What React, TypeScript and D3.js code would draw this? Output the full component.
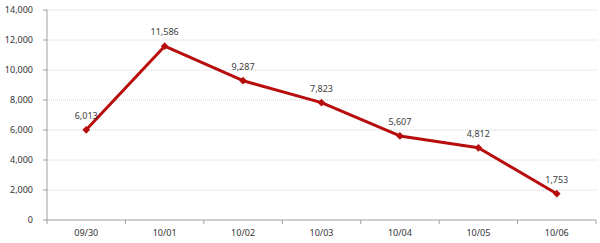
import React from "react";
import * as d3 from "d3";

const categories = ["09/30", "10/01", "10/02", "10/03", "10/04", "10/05", "10/06"];
const values = [6013, 11586, 9287, 7823, 5607, 4812, 1753];
const yTicks = [0, 2000, 4000, 6000, 8000, 10000, 12000, 14000];

const W = 600;
const H = 243;
const M = { left: 47, right: 4, top: 10, bottom: 23 };
const FONT = "'Noto Sans', 'DejaVu Sans', sans-serif";

export default function App() {
  const x = d3.scaleBand<string>().domain(categories).range([M.left, W - M.right]);
  const y = d3.scaleLinear().domain([0, 14000]).range([H - M.bottom, M.top]);
  const fmt = d3.format(",");
  const pts = categories.map((c, i) => [x(c)! + x.bandwidth() / 2, y(values[i])] as [number, number]);
  const line = d3.line()(pts) || "";
  const diamond = d3.symbol().type(d3.symbolSquare).size(30)() || "";
  const x0 = M.left;
  const x1 = W - M.right;
  const yb = y(0);
  return (
    <svg width={W} height={H} style={{ position: "absolute", left: 0, top: 0, background: "#fff" }}>
      {yTicks.map((t) => (
        <g key={t}>
          {t > 0 && (
            <line x1={x0} x2={x1} y1={y(t)} y2={y(t)} stroke="#d0d0d0" strokeWidth={1} strokeDasharray="1,1" />
          )}
          <line x1={x0 - 4} x2={x0} y1={y(t)} y2={y(t)} stroke="#a0a0a0" />
          <text x={x0 - 14} y={y(t)} dy="0.35em" textAnchor="end" fontFamily={FONT} fontSize={9} fill="#333">
            {fmt(t)}
          </text>
        </g>
      ))}
      <line x1={x0} x2={x0} y1={y(14000)} y2={yb} stroke="#a0a0a0" />
      <line x1={x0} x2={x1} y1={yb} y2={yb} stroke="#a0a0a0" />
      {categories.map((c, i) => (
        <g key={c}>
          <line x1={x(c)!} x2={x(c)!} y1={yb} y2={yb + 4} stroke="#a0a0a0" />
          {i === categories.length - 1 && (
            <line x1={x(c)! + x.bandwidth()} x2={x(c)! + x.bandwidth()} y1={yb} y2={yb + 4} stroke="#a0a0a0" />
          )}
          <text x={x(c)! + x.bandwidth() / 2} y={yb + 13} dy="0.35em" textAnchor="middle" fontFamily={FONT} fontSize={9} fill="#333">
            {c}
          </text>
        </g>
      ))}
      <path d={line} fill="none" stroke="#b80d0d" strokeWidth={3} strokeLinejoin="round" />
      {pts.map((p, i) => (
        <g key={i}>
          <path d={diamond} transform={`translate(${p[0]},${p[1]}) rotate(45)`} fill="#b80d0d" />
          <text x={p[0]} y={p[1] - 14} dy="0.35em" textAnchor="middle" fontFamily={FONT} fontSize={9} fill="#404040">
            {fmt(values[i])}
          </text>
        </g>
      ))}
    </svg>
  );
}
